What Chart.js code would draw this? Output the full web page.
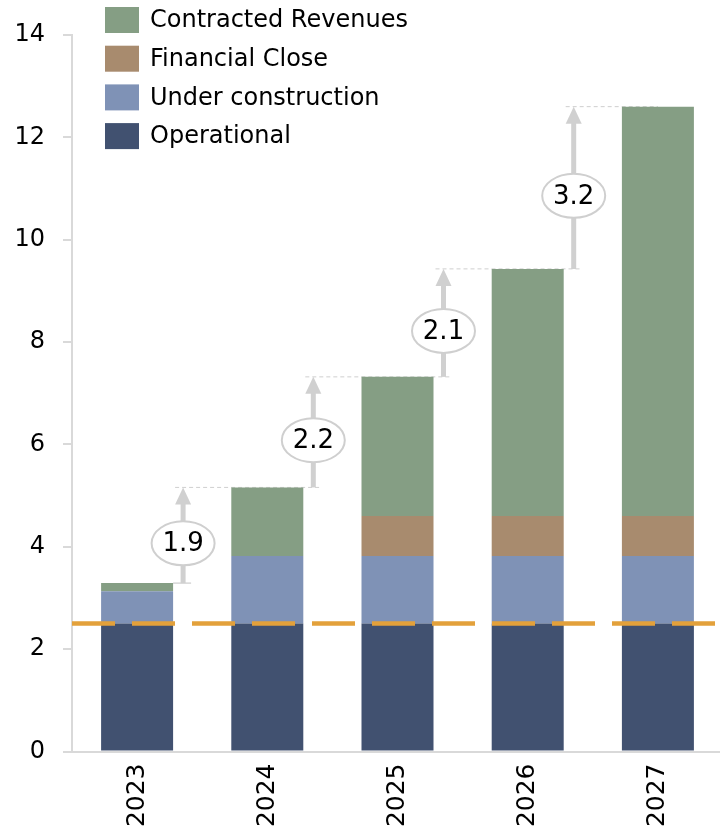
<!DOCTYPE html>
<html lang="en">
<head>
<meta charset="utf-8">
<title>Capacity by year</title>
<script src="https://cdn.jsdelivr.net/npm/chart.js"></script>
<style>
  html, body { margin: 0; padding: 0; background: #fff; overflow: hidden; }
  #wrap { width: 724px; height: 829px; }
</style>
</head>
<body>
<div id="wrap"><canvas id="capacityChart" width="724" height="829"></canvas></div>

<script>
// Stacked capacity per year (GW)
const years = ['2023', '2024', '2025', '2026', '2027'];
const operational = [2.5, 2.5, 2.5, 2.5, 2.5];
const underConstruction = [0.63, 1.32, 1.32, 1.32, 1.32];
const financialClose = [0, 0, 0.78, 0.78, 0.78];
const contractedRevenues = [0.16, 1.34, 2.72, 4.83, 8.0];

// year-on-year step shown in the bubbles
const growth = ['1.9', '2.2', '2.1', '3.2'];

const yTicks = [0, 2, 4, 6, 8, 10, 12, 14];
const baseline = 2.5;

const FONT = '"DejaVu Sans", Verdana, sans-serif';
const totals = years.map((_, i) =>
    operational[i] + underConstruction[i] + financialClose[i] + contractedRevenues[i]);

const annotations = {
    id: 'annotations',
    beforeDatasetsDraw(chart) {
        const ctx = chart.ctx;
        const y = chart.scales.y;
        const bars = chart.getDatasetMeta(0).data;
        const ax = bars.map(b => b.x + b.width / 2 + 10);

        ctx.save();
        // short tick from the first bar top to its arrow
        ctx.strokeStyle = '#d6d6d6';
        ctx.lineWidth = 1.5;
        ctx.beginPath();
        ctx.moveTo(bars[0].x + bars[0].width / 2, y.getPixelForValue(totals[0]));
        ctx.lineTo(ax[0] + 8, y.getPixelForValue(totals[0]));
        ctx.stroke();

        // dashed guides at the top of each following bar
        ctx.setLineDash([4, 3]);
        ctx.lineWidth = 1;
        ctx.strokeStyle = '#cfcfcf';
        for (let i = 0; i < growth.length; i++) {
            const yy = y.getPixelForValue(totals[i + 1]);
            const x2 = i + 1 < growth.length ? ax[i + 1] + 8 : bars[i + 1].x;
            ctx.beginPath();
            ctx.moveTo(ax[i] - 8, yy);
            ctx.lineTo(x2, yy);
            ctx.stroke();
        }
        ctx.restore();
    },
    afterDatasetsDraw(chart) {
        const ctx = chart.ctx;
        const y = chart.scales.y;
        const area = chart.chartArea;
        const bars = chart.getDatasetMeta(0).data;

        ctx.save();
        // operational baseline
        const by = y.getPixelForValue(baseline);
        ctx.strokeStyle = '#e3a13b';
        ctx.lineWidth = 4.5;
        ctx.setLineDash([43, 17]);
        ctx.beginPath();
        ctx.moveTo(area.left, by);
        ctx.lineTo(area.right, by);
        ctx.stroke();
        ctx.setLineDash([]);

        // growth arrows with value bubbles
        growth.forEach((label, i) => {
            const x = bars[i].x + bars[i].width / 2 + 10;
            const y0 = y.getPixelForValue(totals[i]);
            const y1 = y.getPixelForValue(totals[i + 1]);
            ctx.strokeStyle = '#d0d0d0';
            ctx.fillStyle = '#d0d0d0';
            ctx.lineWidth = 5;
            ctx.beginPath();
            ctx.moveTo(x, y0);
            ctx.lineTo(x, y1 + 14);
            ctx.stroke();
            ctx.beginPath();
            ctx.moveTo(x, y1);
            ctx.lineTo(x - 8, y1 + 17);
            ctx.lineTo(x + 8, y1 + 17);
            ctx.closePath();
            ctx.fill();

            const cy = (y0 + y1) / 2 + 8;
            ctx.beginPath();
            ctx.ellipse(x, cy, 31.5, 22, 0, 0, Math.PI * 2);
            ctx.fillStyle = '#fff';
            ctx.fill();
            ctx.lineWidth = 2;
            ctx.strokeStyle = '#cfcfcf';
            ctx.stroke();
            ctx.fillStyle = '#000';
            ctx.font = '26px ' + FONT;
            ctx.textAlign = 'center';
            ctx.textBaseline = 'middle';
            ctx.fillText(label, x, cy + 1);
        });

        // legend, top series first
        ctx.font = '24px ' + FONT;
        ctx.textAlign = 'left';
        ctx.textBaseline = 'middle';
        const order = [3, 2, 1, 0];
        order.forEach((d, k) => {
            const ds = chart.data.datasets[d];
            const cy = 20 + k * 38.7;
            ctx.fillStyle = ds.backgroundColor;
            ctx.fillRect(105, cy - 13, 34, 26);
            ctx.fillStyle = '#000';
            ctx.fillText(ds.label, 150, cy + 1);
        });
        ctx.restore();
    }
};

new Chart(document.getElementById('capacityChart'), {
    type: 'bar',
    data: {
        labels: years,
        datasets: [
            { label: 'Operational', data: operational, backgroundColor: '#415170' },
            { label: 'Under construction', data: underConstruction, backgroundColor: '#7f92b6' },
            { label: 'Financial Close', data: financialClose, backgroundColor: '#a88b6e' },
            { label: 'Contracted Revenues', data: contractedRevenues, backgroundColor: '#859e84' }
        ]
    },
    options: {
        responsive: false,
        animation: false,
        layout: { padding: { top: 35, left: 0, right: 1, bottom: 0 } },
        datasets: {
            bar: {
                categoryPercentage: 1,
                barPercentage: 0.553,
                borderWidth: 0
            }
        },
        plugins: {
            legend: { display: false },
            tooltip: { enabled: false }
        },
        scales: {
            x: {
                stacked: true,
                grid: { display: false, drawTicks: false },
                border: { display: true, color: '#d9d9d9', width: 2 },
                ticks: {
                    color: '#000',
                    font: { family: FONT, size: 25 },
                    minRotation: 90,
                    maxRotation: 90,
                    padding: 12
                },
                afterFit(scale) { scale.height = 77.5; }
            },
            y: {
                stacked: true,
                min: 0,
                max: 14,
                afterBuildTicks(scale) { scale.ticks = yTicks.map(v => ({ value: v })); },
                grid: { drawOnChartArea: false, color: '#d9d9d9', lineWidth: 2, tickLength: 9 },
                border: { display: true, color: '#d9d9d9', width: 2 },
                ticks: {
                    color: '#000',
                    font: { family: FONT, size: 24 },
                    padding: 18
                },
                afterFit(scale) { scale.width = 72; }
            }
        }
    },
    plugins: [annotations]
});
</script>
</body>
</html>
